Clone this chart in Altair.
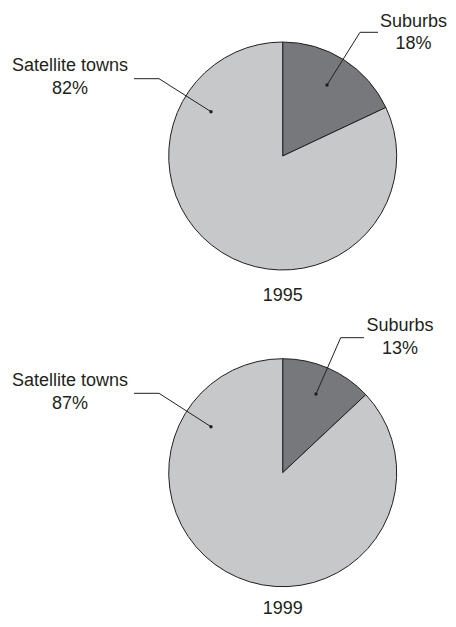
import altair as alt
import pandas as pd

# ---- data ----
years = ["1995", "1999"]
categories = ["Suburbs", "Satellite towns"]
share_1995 = [18, 82]
share_1999 = [13, 87]
shares = {"1995": share_1995, "1999": share_1999}

# ---- layout (pixels) ----
W, H = 440, 611
R = 114
INK = "#231f20"
centers = {"1995": (274.7, 148.0), "1999": (274.7, 464.7)}
year_label_pos = {"1995": (274.7, 293.0), "1999": (274.7, 606.0)}
label_pos = {
    ("1995", "Suburbs"): (405.5, 18.7),
    ("1995", "Satellite towns"): (62.0, 63.3),
    ("1999", "Suburbs"): (392.0, 323.0),
    ("1999", "Satellite towns"): (62.0, 378.0),
}
line_gap = 22.7
leaders = {
    ("1995", "Suburbs"): [(319, 77), (352, 24.3), (370, 24.3)],
    ("1995", "Satellite towns"): [(203, 103.7), (151, 70.7), (126, 70.7)],
    ("1999", "Suburbs"): [(308, 386), (332.7, 329.7), (356, 329.7)],
    ("1999", "Satellite towns"): [(203, 418.7), (151, 385.3), (126, 385.3)],
}

rows = []
for yr in years:
    for i, (c, v) in enumerate(zip(categories, shares[yr])):
        rows.append({"year": yr, "category": c, "share": v, "order": i})
df = pd.DataFrame(rows)

text_rows = []
line_rows = []
dot_rows = []
for r in rows:
    key = (r["year"], r["category"])
    lx, ly = label_pos[key]
    text_rows.append({"x": lx, "y": ly, "text": r["category"]})
    text_rows.append({"x": lx, "y": ly + line_gap, "text": f"{r['share']}%"})
    pts = leaders[key]
    for j, (px, py) in enumerate(pts):
        line_rows.append({"key": f"{key[0]}-{key[1]}", "idx": j, "x": px, "y": py})
    dot_rows.append({"x": pts[0][0], "y": pts[0][1]})
for yr in years:
    x, y = year_label_pos[yr]
    text_rows.append({"x": x, "y": y, "text": yr})

text_df = pd.DataFrame(text_rows)
line_df = pd.DataFrame(line_rows)
dot_df = pd.DataFrame(dot_rows)

color_scale = alt.Scale(domain=categories, range=["#77787b", "#c7c8ca"])

layers = []
for yr in years:
    cx, cy = centers[yr]
    layers.append(
        alt.Chart(df)
        .transform_filter(alt.datum.year == yr)
        .mark_arc(outerRadius=R, stroke=INK, strokeWidth=1)
        .encode(
            theta=alt.Theta("share:Q", stack=True),
            color=alt.Color("category:N", scale=color_scale, legend=None),
            order=alt.Order("order:Q"),
            x=alt.value(cx),
            y=alt.value(cy),
        )
    )

px = alt.X("x:Q", scale=None, axis=None)
py = alt.Y("y:Q", scale=None, axis=None)

lines = alt.Chart(line_df).mark_line(stroke=INK, strokeWidth=1).encode(
    x=px, y=py, detail="key:N", order="idx:Q"
)
dots = alt.Chart(dot_df).mark_circle(size=12, color=INK, opacity=1).encode(x=px, y=py)
texts = alt.Chart(text_df).mark_text(
    align="center", baseline="alphabetic", font="Liberation Sans", fontSize=18, color=INK
).encode(x=px, y=py, text="text:N")

chart = (
    alt.layer(*layers, lines, dots, texts)
    .resolve_scale(theta="independent")
    .properties(width=W, height=H, padding=0, autosize=alt.AutoSizeParams(type="none"))
    .configure_view(stroke=None)
)

chart.save("out.html", embed_options={"renderer": "svg", "actions": False})
